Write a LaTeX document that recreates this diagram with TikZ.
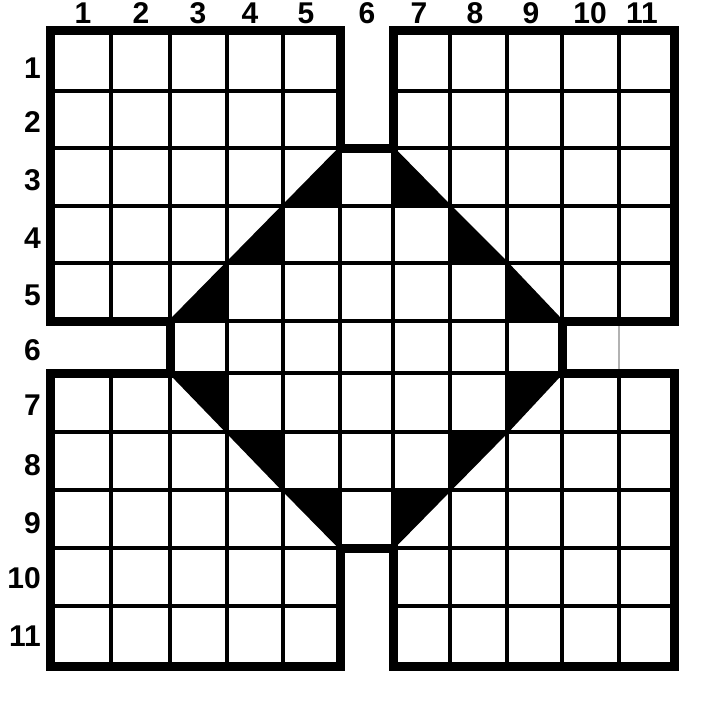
\documentclass[tikz,border=0pt]{standalone}
\usepackage{fontspec}
\setmainfont{Liberation Sans}
\begin{document}
\begin{tikzpicture}[x=1pt,y=-1pt,
  gridline/.style={line width=3.8pt,line cap=round},
  outline/.style={line width=9pt,line join=miter},
  shade/.style={fill=black,draw=black,line width=2.5pt,line join=round},
  faint/.style={line width=2pt,black!30},
  lab/.style={font=\fontsize{30}{30}\selectfont\bfseries,inner sep=0pt}]
\useasboundingbox (0,0) rectangle (702,706);
\fill[white] (0,0) rectangle (702,706);
% grid coordinates
\foreach \x [count=\i from 0] in {50,111,170,227,283,340,393,450,507,562,619,674}{
  \foreach \y [count=\j from 0] in {31,91,148,206,263,321,373,432,490,548,606,666}{
    \coordinate (p\i-\j) at (\x,\y);
  }
}
% cells
\foreach \r in {1,...,11}{
  \foreach \c in {1,...,11}{
    \pgfmathtruncatemacro\cellskip{(((\c==6)&&((\r<3)||(\r>9)))||((\r==6)&&((\c<3)||(\c>9))))?1:0}
    \ifnum\cellskip=0
      \pgfmathtruncatemacro\pc{\c-1}
      \pgfmathtruncatemacro\pr{\r-1}
      \draw[gridline] (p\pc-\pr) rectangle (p\c-\r);
    \fi
  }
}
\draw[faint] (p10-5) -- (p10-6);
% shaded triangles of the diamond
\filldraw[shade] (p5-2) -- (p4-3) -- (p5-3) -- cycle;
\filldraw[shade] (p4-3) -- (p3-4) -- (p4-4) -- cycle;
\filldraw[shade] (p3-4) -- (p2-5) -- (p3-5) -- cycle;
\filldraw[shade] (p6-2) -- (p6-3) -- (p7-3) -- cycle;
\filldraw[shade] (p7-3) -- (p7-4) -- (p8-4) -- cycle;
\filldraw[shade] (p8-4) -- (p8-5) -- (p9-5) -- cycle;
\filldraw[shade] (p2-6) -- (p3-6) -- (p3-7) -- cycle;
\filldraw[shade] (p3-7) -- (p4-7) -- (p4-8) -- cycle;
\filldraw[shade] (p4-8) -- (p5-8) -- (p5-9) -- cycle;
\filldraw[shade] (p8-6) -- (p9-6) -- (p8-7) -- cycle;
\filldraw[shade] (p7-7) -- (p8-7) -- (p7-8) -- cycle;
\filldraw[shade] (p6-8) -- (p7-8) -- (p6-9) -- cycle;
% thick outline
\draw[outline] (p0-0) -- (p5-0) -- (p5-2) -- (p6-2) -- (p6-0) -- (p11-0)
  -- (p11-5) -- (p9-5) -- (p9-6) -- (p11-6) -- (p11-11) -- (p6-11)
  -- (p6-9) -- (p5-9) -- (p5-11) -- (p0-11) -- (p0-6) -- (p2-6)
  -- (p2-5) -- (p0-5) -- cycle;
% column labels
\foreach \lx [count=\k] in {83,141,198,250,306,367,419,475,531,590,642}{
  \node[lab,anchor=base] (col\k) at (\lx,24) {\k};
}
% row labels
\foreach \ly [count=\k] in {68,122,180,238,295,350,405,465,523,578,636}{
  \node[lab,anchor=east] (row\k) at (41,\ly) {\k};
}
\end{tikzpicture}
\end{document}
